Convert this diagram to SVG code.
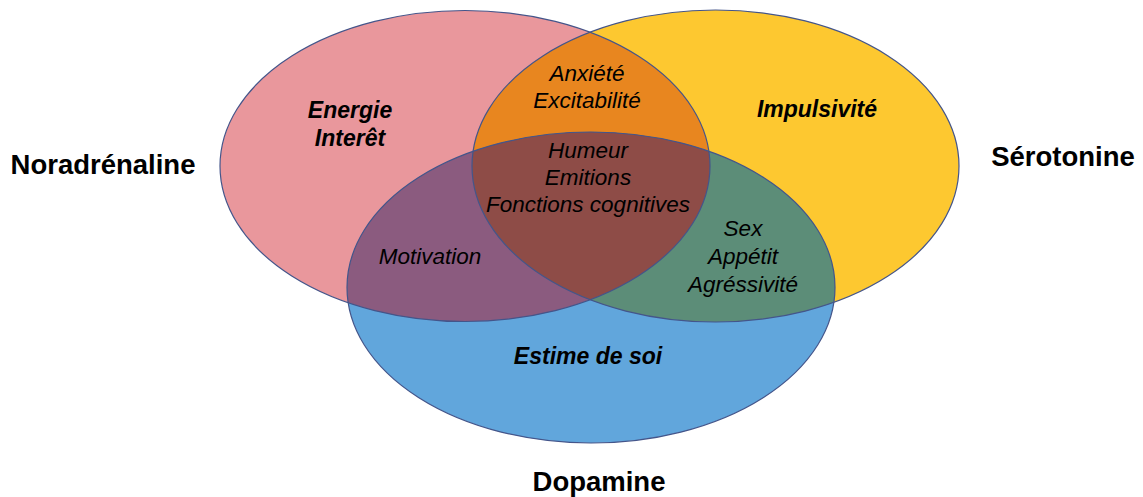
<svg xmlns="http://www.w3.org/2000/svg" width="1143" height="497" viewBox="0 0 1143 497">
  <style>
    text { font-family: "Liberation Sans", Arial, sans-serif; fill: #000; text-anchor: middle; }
    .title { font-size: 27.5px; font-weight: bold; }
    .inner { font-size: 22.5px; font-style: italic; }
    .innerb { font-size: 23px; font-style: italic; font-weight: bold; }
    .outline { fill: none; stroke: #44558a; stroke-width: 1.2; }
  </style>
  <defs>
    <clipPath id="cP"><ellipse cx="465" cy="166" rx="245" ry="155.5"/></clipPath>
    <clipPath id="cY"><ellipse cx="715.5" cy="166" rx="243.5" ry="156"/></clipPath>
  </defs>
  <rect width="1143" height="497" fill="#ffffff"/>

  <g id="noradrenaline">
    <ellipse cx="465" cy="166" rx="245" ry="155.5" fill="#e9979c"/>
  </g>
  <g id="serotonine">
    <ellipse cx="715.5" cy="166" rx="243.5" ry="156" fill="#fdc830"/>
  </g>
  <g id="dopamine">
    <ellipse cx="591" cy="287.5" rx="244" ry="155.5" fill="#61a6dc"/>
  </g>

  <g id="overlaps">
    <ellipse id="nora-sero" cx="715.5" cy="166" rx="243.5" ry="156" fill="#e8861f" clip-path="url(#cP)"/>
    <ellipse id="nora-dopa" cx="591" cy="287.5" rx="244" ry="155.5" fill="#8b5b7f" clip-path="url(#cP)"/>
    <ellipse id="sero-dopa" cx="591" cy="287.5" rx="244" ry="155.5" fill="#5c8d78" clip-path="url(#cY)"/>
    <g clip-path="url(#cY)">
      <ellipse id="center" cx="591" cy="287.5" rx="244" ry="155.5" fill="#8e4c47" clip-path="url(#cP)"/>
    </g>
  </g>

  <g id="outlines">
    <ellipse class="outline" cx="465" cy="166" rx="245" ry="155.5"/>
    <ellipse class="outline" cx="715.5" cy="166" rx="243.5" ry="156"/>
    <ellipse class="outline" cx="591" cy="287.5" rx="244" ry="155.5"/>
  </g>

  <g id="connectors"></g>

  <g id="labels">
    <text class="title" x="103" y="174">Noradrénaline</text>
    <text class="title" x="1063" y="166">Sérotonine</text>
    <text class="title" x="599" y="491">Dopamine</text>

    <text class="innerb" x="350" y="118">Energie</text>
    <text class="innerb" x="350" y="146">Interêt</text>
    <text class="innerb" x="817" y="117">Impulsivité</text>
    <text class="innerb" x="588" y="364">Estime de soi</text>

    <text class="inner" x="587" y="81">Anxiété</text>
    <text class="inner" x="587" y="108">Excitabilité</text>
    <text class="inner" x="588" y="158">Humeur</text>
    <text class="inner" x="588" y="185">Emitions</text>
    <text class="inner" x="588" y="212">Fonctions cognitives</text>
    <text class="inner" x="430" y="264">Motivation</text>
    <text class="inner" x="743" y="236">Sex</text>
    <text class="inner" x="743" y="264">Appétit</text>
    <text class="inner" x="743" y="292">Agréssivité</text>
  </g>
</svg>
